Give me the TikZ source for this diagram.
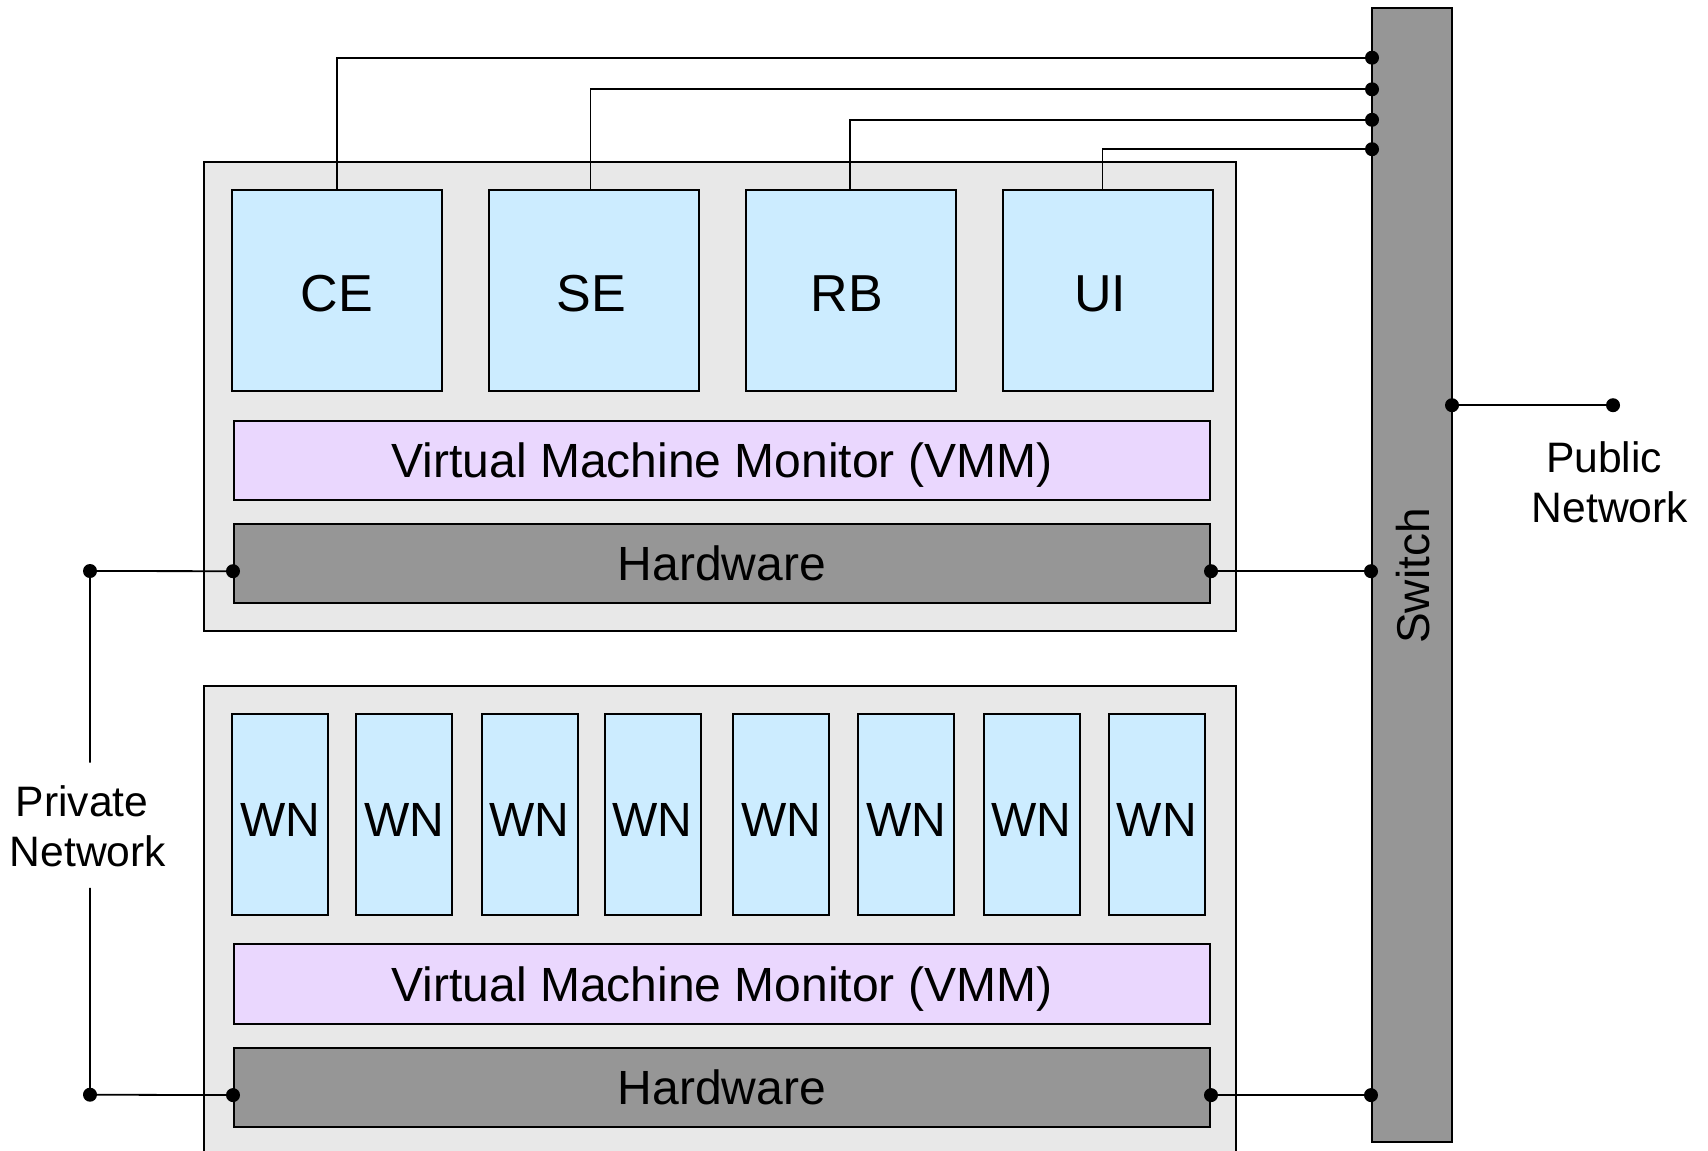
\documentclass[tikz,border=0pt]{standalone}
\usepackage{fontspec}
\setmainfont{Liberation Sans}
\usetikzlibrary{calc}
\definecolor{vmblue}{RGB}{204,236,255}
\definecolor{vmmpurple}{RGB}{234,215,254}
\definecolor{hostgray}{RGB}{232,232,232}
\definecolor{hwgray}{RGB}{150,150,150}
\tikzset{
  hostbox/.style={draw=black, line width=1pt, fill=hostgray, inner sep=0pt, minimum width=516pt},
  vmbox/.style={draw=black, line width=1pt, fill=vmblue, inner sep=0pt, minimum width=105pt, minimum height=100.5pt, text height=21.4pt, text depth=0pt, font=\fontsize{26}{31}\selectfont},
  wnbox/.style={draw=black, line width=1pt, fill=vmblue, inner sep=0pt, minimum width=48pt, minimum height=100.75pt, text height=21.9pt, text depth=0pt, font=\fontsize{24}{29}\selectfont},
  vmmbox/.style={draw=black, line width=1pt, fill=vmmpurple, inner sep=0pt, minimum width=488pt, minimum height=39.75pt, text height=17.2pt, text depth=0pt, font=\fontsize{24}{29}\selectfont},
  hwbox/.style={draw=black, line width=1pt, fill=hwgray, inner sep=0pt, minimum width=488pt, minimum height=39.5pt, text height=17.6pt, text depth=0pt, font=\fontsize{24}{29}\selectfont},
  switchbox/.style={draw=black, line width=1pt, fill=hwgray, inner sep=0pt, minimum width=40pt, minimum height=567pt},
  netlabel/.style={align=center, inner sep=0pt, font=\fontsize{21.3}{25}\selectfont},
  wire/.style={draw=black, line width=0.9pt},
  dot/.style={circle, fill=black, inner sep=0pt, minimum size=7pt},
}
\begin{document}
\begin{tikzpicture}[x=0.5pt,y=-0.5pt]
\useasboundingbox (0,0) rectangle (1708,1151);
\clip (0,0) rectangle (1708,1151);

% host boxes
\node[hostbox, minimum height=234.5pt] (host1) at (720,396.5) {};
\node[hostbox, minimum height=242pt] (host2) at (720,928) {};

% switch
\node[switchbox] (switch) at (1412,575) {};
\node[rotate=90, inner sep=0pt, font=\fontsize{23}{28}\selectfont] (switchlabel) at (1413,576) {Switch};

% switch ports
\coordinate (s1) at (1372,57.7);
\coordinate (s2) at (1372,89.3);
\coordinate (s3) at (1372,119.8);
\coordinate (s4) at (1372,149.2);

% top VMs
\node[vmbox] (ce) at (337,290.5) {CE};
\node[vmbox] (se) at (594,290.5) {SE\kern2.7pt};
\node[vmbox] (rb) at (851,290.5) {RB\kern4.4pt};
\node[vmbox] (ui) at (1108,290.5) {UI\kern7.6pt};

\node[vmmbox] (vmm1) at (722,460.25) {Virtual Machine Monitor (VMM)};
\node[hwbox] (hw1) at (722,563.2) {Hardware};

% worker nodes
\node[wnbox] (wn1) at (280,814.25) {WN};
\node[wnbox] (wn2) at (404.2,814.25) {WN};
\node[wnbox] (wn3) at (529.5,814.25) {WN};
\node[wnbox] (wn4) at (652.6,814.25) {WN};
\node[wnbox] (wn5) at (781.1,814.25) {WN};
\node[wnbox] (wn6) at (906.4,814.25) {WN};
\node[wnbox] (wn7) at (1031.6,814.25) {WN};
\node[wnbox] (wn8) at (1156.9,814.25) {WN};

\node[vmmbox] (vmm2) at (722,984.2) {Virtual Machine Monitor (VMM)};
\node[hwbox] (hw2) at (722,1087.1) {Hardware};

% hardware ports
\coordinate (hw1L) at ($(hw1.west)+(0,8)$);
\coordinate (hw1R) at ($(hw1.east)+(0,8)$);
\coordinate (hw2L) at ($(hw2.west)+(0,8)$);
\coordinate (hw2R) at ($(hw2.east)+(0,8)$);

% VM uplinks
\draw[wire] (ce.north) |- (s1);
\draw[wire] ([xshift=-1.75pt]se.north) |- (s2);
\draw[wire] ([xshift=-0.6pt]rb.north) |- (s3);
\draw[wire] ([xshift=-2.8pt]ui.north) |- (s4);

% hardware to switch
\draw[wire] (hw1R) -- (hw1R -| switch.west);
\draw[wire] (hw2R) -- (hw2R -| switch.west);

% private network
\coordinate (p1) at (90,571);
\coordinate (p2) at (90,1094.7);
\node[netlabel] (priv) at (88,826) {Private\kern0.28em\\Network};
\draw[wire] (hw1L) -- (p1) -- (p1 |- 0,762.5);
\draw[wire] (p2 |- 0,887.8) -- (p2) -- (hw2L);

% public network
\coordinate (pub1) at (1452,405.2);
\coordinate (pub2) at (1613,405.2);
\draw[wire] (pub1) -- (pub2);
\node[netlabel] (pub) at (1610,482) {Public\kern0.28em\\Network};

% dots
\foreach \c in {s1,s2,s3,s4,hw1L,hw1R,hw2L,hw2R,p1,p2,pub1,pub2}
  \node[dot] at (\c) {};
\node[dot] at (hw1R -| switch.west) {};
\node[dot] at (hw2R -| switch.west) {};
\end{tikzpicture}
\end{document}
